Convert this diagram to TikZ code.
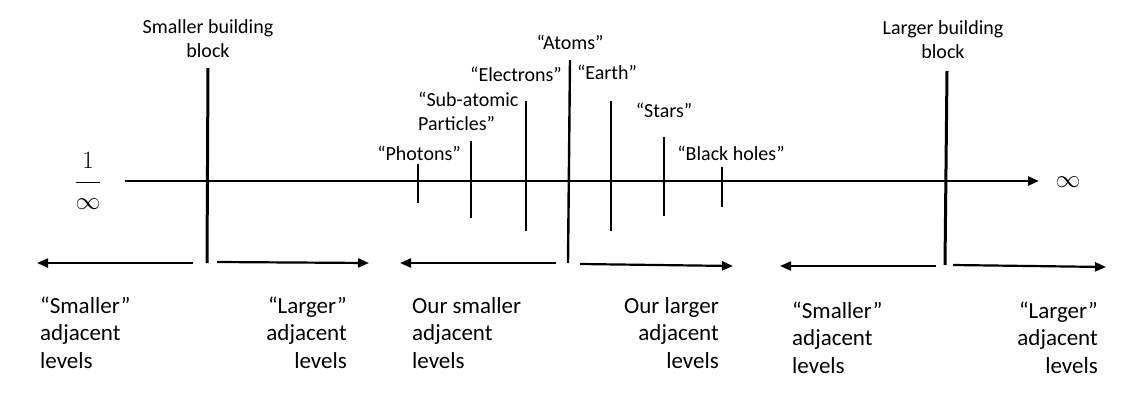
\documentclass[tikz,border=0pt]{standalone}
\usepackage{fontspec}
\setmainfont{Carlito}
\usetikzlibrary{arrows.meta}
\tikzset{
  axisline/.style={line width=2.4pt, -{Triangle[length=11pt,width=9pt]}},
  bigline/.style={line width=3pt},
  midline/.style={line width=2.4pt},
  tickline/.style={line width=2pt},
  sidearrow/.style={line width=2.2pt, -{Triangle[length=11pt,width=9pt]}},
  toplabel/.style={inner sep=0pt, font=\fontsize{20}{23.5}\selectfont},
  botlabel/.style={inner sep=0pt, font=\fontsize{23}{27.5}\selectfont},
  mathlabel/.style={inner sep=0pt, font=\fontsize{32}{38}\selectfont}
}
\begin{document}
\begin{tikzpicture}[x=1pt,y=-1pt]
\useasboundingbox (0,0) rectangle (1135,402);
% main axis
\coordinate (axL) at (125,181);
\coordinate (axR) at (1039,181);
\draw[axisline] (axL) -- (axR);
\node[mathlabel] (oneoverinf) at (88,181) {$\displaystyle\frac{\raisebox{4pt}{$1$}}{\raisebox{-4pt}{$\infty$}}$};
\node[mathlabel] (inf) at (1068,182) {$\infty$};
% building block lines
\coordinate (sbT) at (208,68);
\coordinate (sbB) at (207,263);
\draw[bigline] (sbT) -- (sbB);
\coordinate (lbT) at (947,71);
\coordinate (lbB) at (945,265);
\draw[bigline] (lbT) -- (lbB);
\coordinate (atT) at (570,60);
\coordinate (atB) at (568,263);
\draw[midline] (atT) -- (atB);
% ticks
\coordinate (phT) at (418,164); \coordinate (phB) at (418,203);
\draw[tickline] (phT) -- (phB);
\coordinate (suT) at (471,141); \coordinate (suB) at (471,218);
\draw[tickline] (suT) -- (suB);
\coordinate (elT) at (526,101); \coordinate (elB) at (526,231);
\draw[tickline] (elT) -- (elB);
\coordinate (eaT) at (611,101); \coordinate (eaB) at (611,231);
\draw[tickline] (eaT) -- (eaB);
\coordinate (stT) at (664,137); \coordinate (stB) at (664,216);
\draw[tickline] (stT) -- (stB);
\coordinate (bhT) at (722,167); \coordinate (bhB) at (722,207);
\draw[tickline] (bhT) -- (bhB);
% top labels (multi-line nodes: base = last line)
\node[toplabel, align=center, anchor=base] (sbb) at (208,57) {Smaller building\\block};
\node[toplabel, align=center, anchor=base] (lbb) at (943,58) {Larger building\\block};
\node[toplabel, anchor=base] (lph) at (419,160) {“Photons”};
\node[toplabel, align=left, anchor=base west] (lsu) at (418,130) {“Sub-atomic\\Particles”};
\node[toplabel, anchor=base] (lel) at (516,81) {“Electrons”};
\node[toplabel, anchor=base] (lat) at (570,49) {“Atoms”};
\node[toplabel, anchor=base] (lea) at (607,79) {“Earth”};
\node[toplabel, anchor=base] (lst) at (664,117) {“Stars”};
\node[toplabel, anchor=base] (lbh) at (731,160) {“Black holes”};
% bottom arrows
\coordinate (a1s) at (193,263); \coordinate (a1e) at (37,263);
\draw[sidearrow] (a1s) -- (a1e);
\coordinate (a2s) at (217,262); \coordinate (a2e) at (369,263);
\draw[sidearrow] (a2s) -- (a2e);
\coordinate (a3s) at (556,263); \coordinate (a3e) at (400,263);
\draw[sidearrow] (a3s) -- (a3e);
\coordinate (a4s) at (580,264); \coordinate (a4e) at (733,266);
\draw[sidearrow] (a4s) -- (a4e);
\coordinate (a5s) at (936,266); \coordinate (a5e) at (780,266);
\draw[sidearrow] (a5s) -- (a5e);
\coordinate (a6s) at (953,265); \coordinate (a6e) at (1106,267);
\draw[sidearrow] (a6s) -- (a6e);
% bottom labels
\node[botlabel, align=left, anchor=base west] (b1) at (40,368) {“Smaller”\\adjacent\\levels};
\node[botlabel, align=right, anchor=base east] (b2) at (347,368) {“Larger”\\adjacent\\levels};
\node[botlabel, align=left, anchor=base west] (b3) at (412,368) {Our smaller\\adjacent\\levels};
\node[botlabel, align=right, anchor=base east] (b4) at (719,368) {Our larger\\adjacent\\levels};
\node[botlabel, align=left, anchor=base west] (b5) at (792,373) {“Smaller”\\adjacent\\levels};
\node[botlabel, align=right, anchor=base east] (b6) at (1098,373) {“Larger”\\adjacent\\levels};
\end{tikzpicture}
\end{document}
